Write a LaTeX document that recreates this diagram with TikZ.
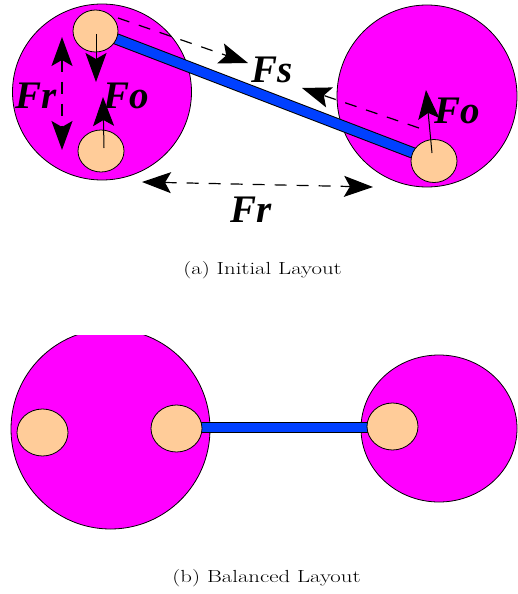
\documentclass[tikz,border=0pt]{standalone}
\usepackage{fontspec}
\usetikzlibrary{arrows.meta}
\newfontfamily\labfont{Liberation Serif}
\definecolor{mag}{RGB}{255,0,255}
\definecolor{peach}{RGB}{255,204,153}
\definecolor{barblue}{RGB}{0,64,255}
\tikzset{
  bigball/.style={fill=mag,draw=black,line width=0.8pt},
  smallball/.style={fill=peach,draw=black,line width=0.8pt},
  forcearrow/.style={line width=1pt,-{Stealth[length=29pt,width=21pt,inset=6pt]}},
  dforce/.style={line width=1.2pt,dash pattern=on 12pt off 10pt,-{Stealth[length=29pt,width=21pt,inset=6pt]}},
  ddforce/.style={line width=1.2pt,dash pattern=on 12pt off 10pt,{Stealth[length=29pt,width=21pt,inset=6pt]}-{Stealth[length=29pt,width=21pt,inset=6pt]}},
  flabel/.style={font=\labfont\bfseries\itshape\fontsize{39}{41}\selectfont,inner sep=0pt,anchor=base west},
  caption/.style={font=\fontsize{17.5}{21}\selectfont,inner sep=0pt},
  barout/.style={line width=11.5pt,draw=black},
  barin/.style={line width=9.5pt,draw=barblue}
}
\begin{document}
\begin{tikzpicture}[x=1pt,y=-1pt]
\useasboundingbox (0,0) rectangle (518,594);
% ---------- (a) Initial layout ----------
\path[bigball] (102,92) ellipse [x radius=89.5,y radius=88];
\path[bigball] (427,96) ellipse [x radius=90,y radius=91];
\coordinate (ua) at (95.5,31);
\coordinate (ra) at (434,161);
\draw[barout] (ua) -- (ra);
\draw[barin] (ua) -- (ra);
\path[smallball] (ua) ellipse [x radius=22.5,y radius=21];
\path[smallball] (101,151) ellipse [x radius=23,y radius=21];
\path[smallball] (ra) ellipse [x radius=23,y radius=21.5];
% Fo arrows
\coordinate (fo1s) at (96,34);
\coordinate (fo1e) at (96,82);
\draw[forcearrow] (fo1s) -- (fo1e);
\coordinate (fo2s) at (104,148);
\coordinate (fo2e) at (103,97);
\draw[forcearrow] (fo2s) -- (fo2e);
\coordinate (fo3s) at (432,153);
\coordinate (fo3e) at (426,90);
\draw[forcearrow] (fo3s) -- (fo3e);
% Fr arrows
\coordinate (fr1a) at (62,37);
\coordinate (fr1b) at (62,150);
\draw[ddforce] (fr1a) -- (fr1b);
\coordinate (fr2a) at (142,182);
\coordinate (fr2b) at (373,187);
\draw[ddforce] (fr2a) -- (fr2b);
% Fs arrows
\coordinate (fs1s) at (118,18);
\coordinate (fs1e) at (248,63);
\draw[dforce] (fs1s) -- (fs1e);
\coordinate (fs2s) at (419,128);
\coordinate (fs2e) at (302,88);
\draw[dforce] (fs2s) -- (fs2e);
% labels
\node[flabel] (lfr) at (15,108) {Fr};
\node[flabel] (lfo) at (103,108) {Fo};
\node[flabel] (lfs) at (251,82) {Fs};
\node[flabel] (rfo) at (434,123) {Fo};
\node[flabel] (bfr) at (230,222) {Fr};
\node[caption] (capa) at (262.5,270) {\scalebox{1.3}[1]{(a) Initial Layout}};
% ---------- (b) Balanced layout ----------
\begin{scope}
\clip (0,335) rectangle (518,594);
\path[bigball] (110.5,429) ellipse [x radius=99.5,y radius=100];
\end{scope}
\path[bigball] (439,428.5) ellipse [x radius=78,y radius=73.5];
\coordinate (lb) at (176.5,427.5);
\coordinate (rb) at (392.5,427.5);
\draw[line width=11pt,draw=black] (lb) -- (rb);
\draw[line width=9pt,draw=barblue] (lb) -- (rb);
\path[smallball] (42.5,432.5) ellipse [x radius=25.5,y radius=23.5];
\path[smallball] (176.5,428.5) ellipse [x radius=25.5,y radius=23.5];
\path[smallball] (392.5,426.5) ellipse [x radius=25.5,y radius=23.5];
\node[caption] (capb) at (266.5,578) {\scalebox{1.3}[1]{(b) Balanced Layout}};
\end{tikzpicture}
\end{document}
